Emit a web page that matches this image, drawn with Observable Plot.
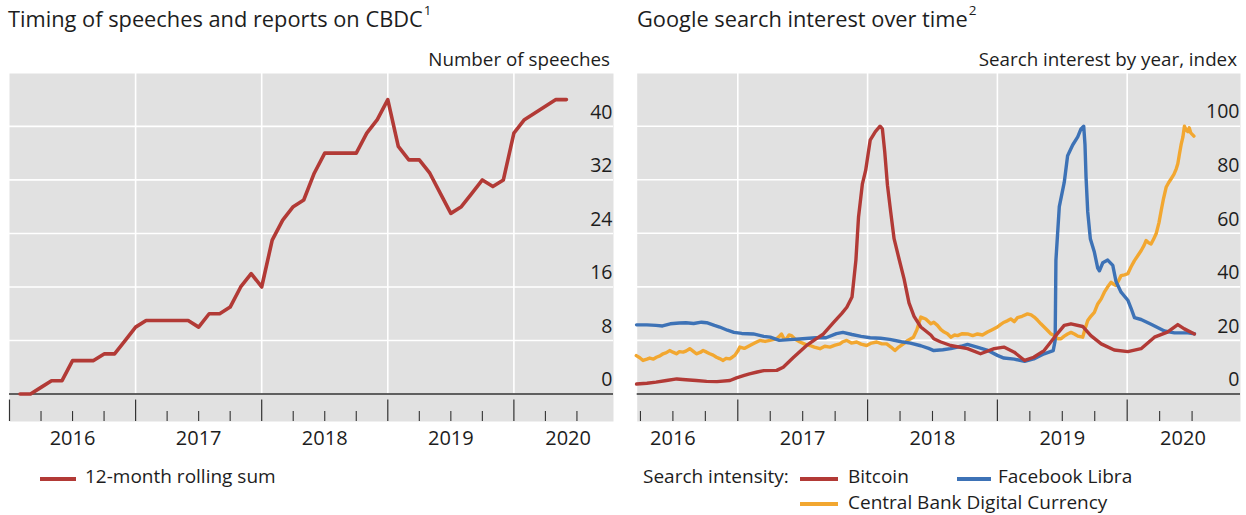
<!DOCTYPE html>
<html><head><meta charset="utf-8">
<script src="https://cdn.jsdelivr.net/npm/d3@7"></script>
<script src="https://cdn.jsdelivr.net/npm/@observablehq/plot@0.6"></script>
<style>
body{margin:0;background:#fff;font-family:"Open Sans",sans-serif;color:#1d1d1d}
#wrap{position:relative;width:1246px;height:515px;overflow:hidden}
.abs{position:absolute;white-space:nowrap;line-height:1}
.title{font-size:21.8px;top:8px}
.title sup{font-size:13.5px;vertical-align:top;position:relative;top:-4px;margin-left:1px}
.sub{font-size:18.8px;top:50px}
.leg{font-size:19px}
.sw{position:absolute;height:4px}
#p1{position:absolute;left:0;top:70px}
#p2{position:absolute;left:630px;top:70px}
</style></head>
<body><div id="wrap">
<div class="abs title" style="left:8px">Timing of speeches and reports on CBDC<sup>1</sup></div>
<div class="abs title" style="left:637px">Google search interest over time<sup>2</sup></div>
<div class="abs sub" style="right:636px">Number of speeches</div>
<div class="abs sub" style="right:9px">Search interest by year, index</div>
<div id="p1"></div>
<div id="p2"></div>
<div class="sw" style="left:40px;top:477px;width:36px;background:#b23a36"></div>
<div class="abs leg" style="left:85px;top:467px">12-month rolling sum</div>
<div class="abs leg" style="left:643px;top:467px">Search intensity:</div>
<div class="sw" style="left:800px;top:477px;width:38px;background:#b23a36"></div>
<div class="abs leg" style="left:848px;top:467px">Bitcoin</div>
<div class="sw" style="left:957px;top:477px;width:34px;background:#3d72b6"></div>
<div class="abs leg" style="left:998px;top:467px">Facebook Libra</div>
<div class="sw" style="left:800px;top:502px;width:38px;background:#f2a730"></div>
<div class="abs leg" style="left:848px;top:492.5px">Central Bank Digital Currency</div>
</div>
<script>
// ---------- Left panel data ----------
const speechMonths = ["2016-02","2016-03","2016-04","2016-05","2016-06","2016-07","2016-08","2016-09","2016-10","2016-11","2016-12",
"2017-01","2017-02","2017-03","2017-04","2017-05","2017-06","2017-07","2017-08","2017-09","2017-10","2017-11","2017-12",
"2018-01","2018-02","2018-03","2018-04","2018-05","2018-06","2018-07","2018-08","2018-09","2018-10","2018-11","2018-12",
"2019-01","2019-02","2019-03","2019-04","2019-05","2019-06","2019-07","2019-08","2019-09","2019-10","2019-11","2019-12",
"2020-01","2020-02","2020-03","2020-04","2020-05","2020-06"];
const speechCounts = [0,0,1,2,2,5,5,5,6,6,8,
10,11,11,11,11,11,10,12,12,13,16,18,
16,23,26,28,29,33,36,36,36,36,39,41,
44,37,35,35,33,30,27,28,30,32,31,32,
39,41,42,43,44,44];
const speechTicks = [0,8,16,24,32,40];

// ---------- Right panel data (decimal year, index) ----------
const bitcoin = [[2016.22,3.7],[2016.30,4.0],[2016.37,4.4],[2016.45,5.0],[2016.53,5.6],[2016.60,5.3],[2016.68,5.0],[2016.76,4.7],[2016.84,4.6],[2016.94,5.0],[2016.99,6.0],[2017.05,6.9],[2017.09,7.5],[2017.15,8.2],[2017.20,8.7],[2017.30,8.8],[2017.35,10.0],[2017.43,13.7],[2017.53,18.1],[2017.60,20.5],[2017.66,22.4],[2017.74,26.8],[2017.80,30.0],[2017.84,32.4],[2017.88,36.2],[2017.91,50],[2017.93,66],[2017.96,78.5],[2017.985,83.5],[2018.02,94.8],[2018.06,98],[2018.096,100],[2018.114,99],[2018.132,90.5],[2018.153,78],[2018.178,68],[2018.204,58],[2018.242,50.5],[2018.281,43],[2018.319,34],[2018.358,29],[2018.41,25],[2018.487,22.0],[2018.51,20.6],[2018.56,19.5],[2018.64,18.1],[2018.77,16.9],[2018.87,15.0],[2018.975,16.9],[2019.05,17.5],[2019.13,15.6],[2019.21,12.5],[2019.28,13.7],[2019.36,16.2],[2019.44,21.2],[2019.515,25.6],[2019.567,26.2],[2019.657,25.2],[2019.72,21.8],[2019.80,18.7],[2019.90,16.4],[2020.005,15.8],[2020.107,16.9],[2020.21,21.2],[2020.31,23.1],[2020.39,25.9],[2020.44,24.3],[2020.518,22.4]];

const libra = [[2016.22,25.8],[2016.30,25.8],[2016.37,25.6],[2016.42,25.4],[2016.48,26.2],[2016.55,26.5],[2016.60,26.6],[2016.66,26.3],[2016.72,26.8],[2016.76,26.6],[2016.82,25.6],[2016.86,25.0],[2016.92,23.8],[2016.97,23.0],[2017.03,22.6],[2017.12,22.4],[2017.20,21.5],[2017.25,21.2],[2017.32,20.0],[2017.40,20.3],[2017.50,20.6],[2017.60,21.0],[2017.68,21.0],[2017.76,22.5],[2017.81,23.0],[2017.88,22.2],[2017.95,21.5],[2018.02,21.0],[2018.10,20.8],[2018.17,20.4],[2018.26,19.5],[2018.33,19.0],[2018.41,18.0],[2018.47,17.0],[2018.51,16.2],[2018.58,16.5],[2018.64,16.9],[2018.72,17.8],[2018.77,18.5],[2018.85,17.4],[2018.92,16.4],[2019.0,14.4],[2019.05,13.4],[2019.13,13.0],[2019.21,12.2],[2019.28,13.1],[2019.36,15.0],[2019.43,16.2],[2019.445,20],[2019.451,50],[2019.477,70],[2019.515,79],[2019.541,89],[2019.58,93],[2019.619,96],[2019.644,99],[2019.665,100],[2019.675,93],[2019.683,81],[2019.696,68],[2019.716,58],[2019.747,53],[2019.773,47],[2019.786,46],[2019.812,49],[2019.85,50],[2019.889,48],[2019.914,42],[2019.953,38],[2020.005,35],[2020.03,32],[2020.056,28.5],[2020.107,27.8],[2020.184,26],[2020.287,23.5],[2020.364,22.8],[2020.468,22.8],[2020.518,22.5]];

const cbdc = [[2016.218,14.3],[2016.245,13.5],[2016.27,12.5],[2016.30,13.0],[2016.321,13.4],[2016.35,13.0],[2016.373,13.7],[2016.40,14.2],[2016.424,15.0],[2016.45,15.4],[2016.475,16.2],[2016.50,15.6],[2016.527,15.0],[2016.55,15.8],[2016.578,15.6],[2016.60,16.0],[2016.63,16.9],[2016.655,16.0],[2016.681,15.0],[2016.71,15.5],[2016.733,16.2],[2016.76,15.6],[2016.784,15.0],[2016.81,14.5],[2016.836,13.7],[2016.86,13.2],[2016.887,12.5],[2016.91,13.3],[2016.939,13.1],[2016.96,13.8],[2016.977,14.4],[2017.00,16.0],[2017.016,17.5],[2017.05,17.0],[2017.093,18.1],[2017.13,19.0],[2017.17,20.0],[2017.21,19.6],[2017.247,20.0],[2017.27,20.3],[2017.299,20.6],[2017.32,21.5],[2017.337,22.4],[2017.356,20.5],[2017.376,20.6],[2017.395,22.0],[2017.414,21.8],[2017.44,20.5],[2017.479,19.4],[2017.52,18.5],[2017.556,18.1],[2017.59,17.5],[2017.633,16.9],[2017.67,17.8],[2017.71,17.5],[2017.75,18.2],[2017.787,18.7],[2017.81,19.5],[2017.839,20.0],[2017.875,19.0],[2017.916,19.4],[2017.95,18.6],[2017.993,18.1],[2018.03,19.0],[2018.07,19.4],[2018.11,18.7],[2018.147,18.7],[2018.18,17.5],[2018.211,16.2],[2018.24,17.5],[2018.276,18.7],[2018.31,20.0],[2018.353,21.2],[2018.38,24.0],[2018.41,28.7],[2018.448,28.0],[2018.487,26.2],[2018.51,26.8],[2018.538,25.6],[2018.565,24.0],[2018.59,23.1],[2018.615,22.5],[2018.641,21.2],[2018.67,22.0],[2018.693,21.8],[2018.73,22.5],[2018.77,22.4],[2018.81,21.8],[2018.847,22.4],[2018.885,22.0],[2018.924,23.1],[2018.96,24.0],[2019.0,25.0],[2019.026,26.0],[2019.052,26.8],[2019.08,27.4],[2019.103,28.0],[2019.13,27.0],[2019.155,28.5],[2019.19,29.0],[2019.232,29.9],[2019.26,29.5],[2019.284,28.7],[2019.31,27.5],[2019.335,26.2],[2019.36,25.0],[2019.387,23.7],[2019.41,22.5],[2019.438,21.8],[2019.465,20.6],[2019.49,20.6],[2019.515,21.6],[2019.541,22.4],[2019.567,23.0],[2019.593,22.4],[2019.62,21.6],[2019.657,21.2],[2019.68,25.0],[2019.696,27.4],[2019.72,29.0],[2019.747,30.5],[2019.773,33.6],[2019.80,35.5],[2019.824,38.0],[2019.85,40.0],[2019.876,41.7],[2019.895,41.0],[2019.914,40.5],[2019.935,42.5],[2019.953,44.2],[2019.98,44.5],[2020.005,44.9],[2020.03,47.5],[2020.056,49.8],[2020.08,51.5],[2020.107,53.5],[2020.13,55.5],[2020.146,57.3],[2020.165,56.5],[2020.184,56.0],[2020.205,58.0],[2020.223,59.8],[2020.245,64],[2020.262,68.5],[2020.28,73],[2020.30,77.2],[2020.32,79],[2020.339,80.4],[2020.36,82],[2020.378,84.1],[2020.39,86],[2020.403,89.7],[2020.415,93],[2020.429,95.9],[2020.441,100],[2020.455,98.5],[2020.468,98],[2020.478,99.4],[2020.49,97.5],[2020.514,96.3]];
const searchTicks = [0,20,40,60,80,100];

// ---------- Axis labels / ticks ----------
const yearLabels = ["2016","2017","2018","2019","2020"];
const yearLabelPos = [2016.5,2017.5,2018.5,2019.5,2020.43];
const leftYearTicks = [2016,2017,2018,2019,2020];
const rightYearTicks = [2017,2018,2019,2020];
const quarterTicks = [2016.25,2016.5,2016.75,2017.25,2017.5,2017.75,2018.25,2018.5,2018.75,2019.25,2019.5,2019.75,2020.25,2020.5];

const GRAY = "#e1e1e1", AX = "#333";
const font = "'Open Sans', sans-serif";

function monthToYear(s){ const [y,m] = s.split("-").map(Number); return y + (m-1)/12; }
const speechData = speechMonths.map((m,i)=>({t: monthToYear(m), v: speechCounts[i]}));
const labelData = yearLabels.map((l,i)=>({label:l, pos:yearLabelPos[i]}));

function panel({width, mL, mR, xDomain, yDomain, yTicks, yearTicks, lines}){
  const [y0, y1] = yDomain;
  const H = 390;
  const ppu = (H - 3 - 39) / (y1 - y0);
  const yt1 = -6 / ppu, yq1 = -17.5 / ppu;
  return Plot.plot({
    width, height: H,
    marginLeft: mL, marginRight: mR, marginTop: 3, marginBottom: 39,
    x: {type: "linear", domain: xDomain, axis: null},
    y: {domain: yDomain, axis: null},
    style: {fontFamily: font, fontSize: "19.5px", color: "#1d1d1d", background: "transparent", overflow: "visible"},
    marks: [
      Plot.frame({fill: GRAY, stroke: null}),
      Plot.ruleY(yTicks.filter(d => d > 0), {stroke: "#fff", strokeWidth: 1.6}),
      Plot.ruleX(yearTicks.filter(d => d > xDomain[0] + 0.01), {y1: 0, y2: y1, stroke: "#fff", strokeWidth: 1.6}),
      Plot.ruleY([0], {stroke: AX, strokeWidth: 1.6}),
      Plot.ruleX(yearTicks, {y1: yt1, y2: y0, stroke: AX, strokeWidth: 1.2}),
      Plot.ruleX(quarterTicks.filter(d => d >= xDomain[0]), {y1: yq1, y2: y0, stroke: AX, strokeWidth: 1.1}),
      Plot.text(yTicks, {y: d => d, text: d => String(d), frameAnchor: "right", textAnchor: "end", dx: -1, dy: -14, fontSize: 19.5, fill: "#1d1d1d"}),
      ...lines,
      Plot.text(labelData, {x: "pos", text: "label", frameAnchor: "bottom", dy: 23, fontSize: 20, fill: "#1d1d1d"})
    ]
  });
}

const left = panel({
  width: 620, mL: 9, mR: 7, xDomain: [2016, 2020.79], yDomain: [-4.1, 47.9],
  yTicks: speechTicks, yearTicks: leftYearTicks,
  lines: [Plot.line(speechData, {x: "t", y: "v", stroke: "#b23a36", strokeWidth: 3.6, strokeLinejoin: "round"})]
});
document.getElementById("p1").appendChild(left);

const right = panel({
  width: 616, mL: 6.7, mR: 6, xDomain: [2016.225, 2020.873], yDomain: [-10.3, 119.7],
  yTicks: searchTicks, yearTicks: rightYearTicks,
  lines: [
    Plot.line(cbdc, {x: d => d[0], y: d => d[1], stroke: "#f2a730", strokeWidth: 3.4, strokeLinejoin: "round"}),
    Plot.line(libra, {x: d => d[0], y: d => d[1], stroke: "#3d72b6", strokeWidth: 3.4, strokeLinejoin: "round"}),
    Plot.line(bitcoin, {x: d => d[0], y: d => d[1], stroke: "#b23a36", strokeWidth: 3.4, strokeLinejoin: "round"})
  ]
});
document.getElementById("p2").appendChild(right);
</script>
</body></html>
